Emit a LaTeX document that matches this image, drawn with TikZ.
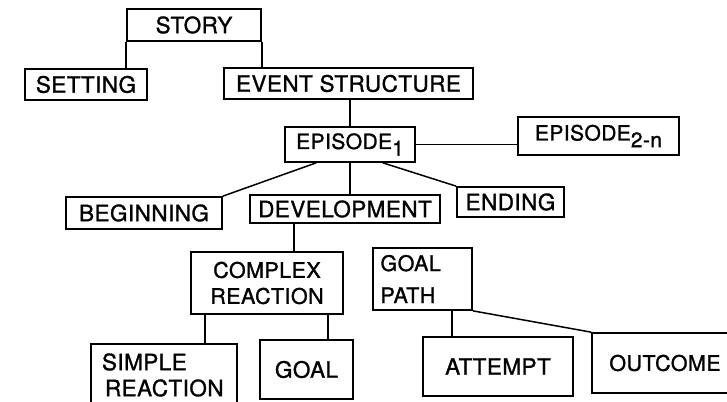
\documentclass[tikz,border=0pt]{standalone}
\usepackage{fontspec}
\setmainfont{TeX Gyre Heros}[FakeBold=1.2, LetterSpace=2]
\usetikzlibrary{calc}
\tikzset{
  box/.style={draw, line width=1.7pt, inner sep=0pt, font=\fontsize{22.5}{26}\selectfont, align=center},
  twoline/.style={font=\fontsize{21.5}{26}\selectfont},
  conn/.style={line width=1.5pt},
}
\newcommand{\lowsub}[1]{\raisebox{-0.32em}{\fontsize{21}{22}\selectfont #1}}
\begin{document}
\begin{tikzpicture}[x=1pt,y=-1pt]
\useasboundingbox (0,0) rectangle (727,401);
\begin{scope}
\clip (0,0) rectangle (727,401);
\node[box, minimum width=134, minimum height=32] (story) at (194,25) {STORY};
\node[box, minimum width=122, minimum height=31] (setting) at (86,84.5) {SETTING};
\node[box, minimum width=249, minimum height=31] (event) at (348.5,83.5) {EVENT STRUCTURE};
\node[box, minimum width=130, minimum height=35, font=\fontsize{21}{24}\selectfont] (ep1) at (350,144.5) {EPISODE\lowsub{1}};
\node[box, minimum width=161, minimum height=38, font=\fontsize{21}{24}\selectfont] (ep2) at (598.5,136) {EPISODE\lowsub{2-n}};
\node[box, minimum width=156, minimum height=32] (begin) at (144,213) {BEGINNING};
\node[box, minimum width=190, minimum height=28] (dev) at (345,209) {DEVELOPMENT};
\node[box, minimum width=107, minimum height=30] (ending) at (510.5,202) {ENDING};
\node[box, twoline, minimum width=152, minimum height=62] (complex) at (267,283) {COMPLEX\\REACTION};
\node[box, minimum width=99, minimum height=62, font=\fontsize{21.5}{32}\selectfont, text width=84, align=left] (gpath) at (422.5,279) {GOAL\\PATH};
\node[box, font=\fontsize{22.5}{26}\selectfont, minimum width=146, minimum height=62, text width=124, align=left] (simple) at (164,375) {SIMPLE\\\hspace*{3pt}REACTION};
\node[box, minimum width=93, minimum height=59] (goal) at (306.5,369.5) {GOAL};
\node[box, minimum width=150, minimum height=59] (attempt) at (498,366.5) {ATTEMPT};
\node[box, minimum width=150, minimum height=60, font=\fontsize{21.5}{24}\selectfont] (outcome) at (667,363) {OUTCOME\hspace*{4pt}};

\draw[conn] (story.south west) -- (story.south west |- setting.north);
\draw[conn] (story.south east) -- (story.south east |- event.north);
\draw[conn] (ep1.north |- event.south) -- (ep1.north);
\draw[conn] (ep1.east) -- (ep1.east -| ep2.west);
\draw[conn] ($(ep1.south west)+(32,0)$) -- (begin.north east);
\draw[conn] (ep1.south) -- (ep1.south |- dev.north);
\draw[conn] ($(ep1.south east)+(-33,0)$) -- (ending.north west);
\coordinate (devout) at ($(dev.south west)+(45,0)$);
\draw[conn] (devout) -- (devout |- complex.north);
\coordinate (cxa) at ($(complex.south west)+(15,0)$);
\coordinate (cxb) at ($(complex.south east)+(-16,0)$);
\draw[conn] (cxa) -- (cxa |- simple.north);
\draw[conn] (cxb) -- (cxb |- goal.north);
\coordinate (gpa) at ($(gpath.south west)+(80,0)$);
\draw[conn] (gpa) -- (gpa |- attempt.north);
\draw[conn] (gpath.south east) -- (outcome.north west);
\end{scope}
\end{tikzpicture}
\end{document}
